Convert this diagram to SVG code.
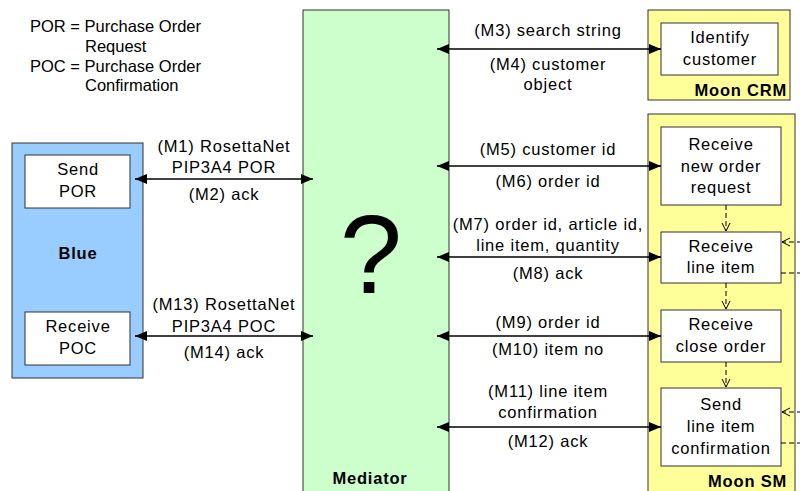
<svg xmlns="http://www.w3.org/2000/svg" width="800" height="491" viewBox="0 0 800 491">
<defs>
<marker id="ah" markerUnits="userSpaceOnUse" markerWidth="12" markerHeight="10" refX="12" refY="5" orient="auto-start-reverse"><path d="M0,0 L12,5 L0,10 z" fill="#000"/></marker>
<marker id="oh" markerUnits="userSpaceOnUse" markerWidth="10" markerHeight="10" refX="9" refY="5" orient="auto"><path d="M1,1 L9,5 L1,9" fill="none" stroke="#000" stroke-width="1"/></marker>
<style>
text{font-family:"Liberation Sans",Arial,sans-serif;fill:#000}
.t{font-size:16.5px;text-anchor:middle;letter-spacing:0.8px}
.l{font-size:16.5px}
.b{font-size:16.5px;font-weight:bold;letter-spacing:0.8px}
.box{fill:#fff;stroke:#333;stroke-width:1}
.msg{stroke:#000;stroke-width:1.5;fill:none;marker-start:url(#ah);marker-end:url(#ah)}
.dash{stroke:#000;stroke-width:1;fill:none;stroke-dasharray:5,3}
</style>
</defs>
<g id="legend">
<text class="l" x="30" y="32">POR = Purchase Order</text>
<text class="l" x="85" y="52">Request</text>
<text class="l" x="30" y="72">POC = Purchase Order</text>
<text class="l" x="85" y="91">Confirmation</text>
</g>
<g id="blue">
<rect x="12" y="143" width="131" height="235" fill="#99CCFF" stroke="#333" stroke-width="1"/>
<text class="b" x="78" y="259" text-anchor="middle">Blue</text>
</g>
<g id="send-por">
<rect class="box" x="25" y="155" width="105" height="53"/>
<text class="t" x="78" y="175">Send</text>
<text class="t" x="78" y="197">POR</text>
</g>
<g id="receive-poc">
<rect class="box" x="25" y="312" width="105" height="53"/>
<text class="t" x="78" y="332">Receive</text>
<text class="t" x="78" y="354">POC</text>
</g>
<g id="mediator">
<rect x="303" y="10" width="146" height="490" fill="#CCFFCC" stroke="#333" stroke-width="1"/>
<text x="371" y="293" font-size="112" text-anchor="middle">?</text>
<text class="b" x="370" y="484" text-anchor="middle">Mediator</text>
</g>
<g id="moon-crm">
<rect x="648" y="10" width="142" height="90" fill="#FFFF99" stroke="#333" stroke-width="1"/>
<text class="b" x="787" y="96" text-anchor="end">Moon CRM</text>
</g>
<g id="identify-customer">
<rect class="box" x="661" y="23" width="117" height="52"/>
<text class="t" x="720" y="43">Identify</text>
<text class="t" x="720" y="65">customer</text>
</g>
<g id="moon-sm">
<rect x="648" y="114" width="147" height="386" fill="#FFFF99" stroke="#333" stroke-width="1"/>
<text class="b" x="787" y="487" text-anchor="end">Moon SM</text>
</g>
<g id="receive-new-order">
<rect class="box" x="661" y="127" width="120" height="78"/>
<text class="t" x="721" y="150">Receive</text>
<text class="t" x="721" y="172">new order</text>
<text class="t" x="721" y="193">request</text>
</g>
<g id="receive-line-item">
<rect class="box" x="661" y="232" width="120" height="51"/>
<text class="t" x="721" y="252">Receive</text>
<text class="t" x="721" y="273">line item</text>
</g>
<g id="receive-close-order">
<rect class="box" x="661" y="310" width="120" height="52"/>
<text class="t" x="721" y="330">Receive</text>
<text class="t" x="721" y="352">close order</text>
</g>
<g id="send-line-item-confirmation">
<rect class="box" x="661" y="388" width="120" height="78"/>
<text class="t" x="721" y="410">Send</text>
<text class="t" x="721" y="432">line item</text>
<text class="t" x="721" y="454">confirmation</text>
</g>
<g id="connectors">
<line class="msg" x1="135" y1="179" x2="313" y2="179"/>
<line class="msg" x1="135" y1="336" x2="313" y2="336"/>
<line class="msg" x1="437" y1="49" x2="661" y2="49"/>
<line class="msg" x1="437" y1="166" x2="661" y2="166"/>
<line class="msg" x1="437" y1="257" x2="661" y2="257"/>
<line class="msg" x1="437" y1="336" x2="661" y2="336"/>
<line class="msg" x1="437" y1="427" x2="661" y2="427"/>
<line class="dash" x1="726" y1="205" x2="726" y2="231" marker-end="url(#oh)"/>
<line class="dash" x1="726" y1="283" x2="726" y2="309" marker-end="url(#oh)"/>
<line class="dash" x1="726" y1="362" x2="726" y2="387" marker-end="url(#oh)"/>
<line class="dash" x1="781" y1="273" x2="802" y2="273"/>
<line class="dash" x1="802" y1="242" x2="782" y2="242" marker-end="url(#oh)"/>
<line class="dash" x1="781" y1="443" x2="802" y2="443"/>
<line class="dash" x1="802" y1="412" x2="782" y2="412" marker-end="url(#oh)"/>
</g>
<g id="labels">
<text class="t" x="224" y="152">(M1) RosettaNet</text>
<text class="t" x="224" y="173">PIP3A4 POR</text>
<text class="t" x="224" y="200">(M2) ack</text>
<text class="t" x="224" y="310">(M13) RosettaNet</text>
<text class="t" x="224" y="332">PIP3A4 POC</text>
<text class="t" x="224" y="358">(M14) ack</text>
<text class="t" x="548" y="36">(M3) search string</text>
<text class="t" x="548" y="70">(M4) customer</text>
<text class="t" x="548" y="90">object</text>
<text class="t" x="548" y="155">(M5) customer id</text>
<text class="t" x="548" y="187">(M6) order id</text>
<text class="t" x="548" y="230">(M7) order id, article id,</text>
<text class="t" x="548" y="251">line item, quantity</text>
<text class="t" x="548" y="279">(M8) ack</text>
<text class="t" x="548" y="328">(M9) order id</text>
<text class="t" x="548" y="355">(M10) item no</text>
<text class="t" x="548" y="397">(M11) line item</text>
<text class="t" x="548" y="418">confirmation</text>
<text class="t" x="548" y="447">(M12) ack</text>
</g>
</svg>
